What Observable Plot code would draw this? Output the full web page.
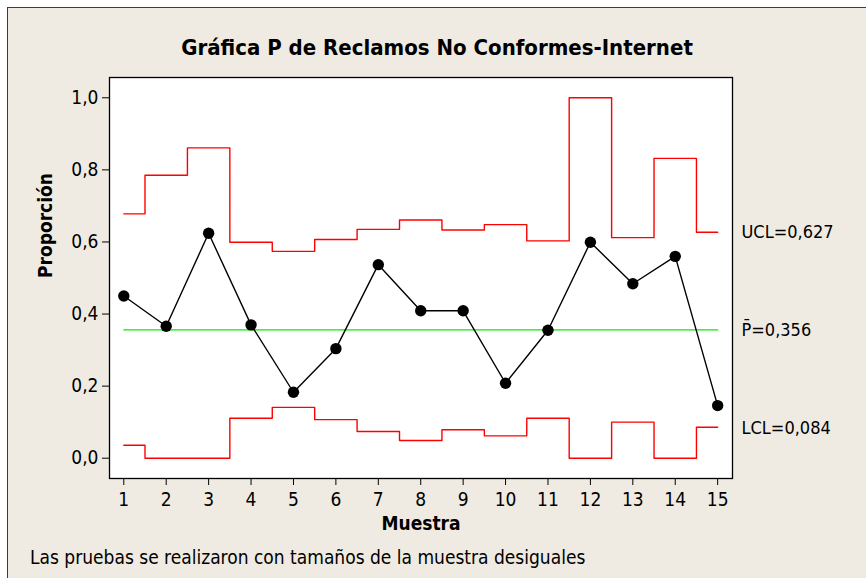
<!DOCTYPE html>
<html>
<head>
<meta charset="utf-8">
<script src="https://cdn.jsdelivr.net/npm/d3@7"></script>
<script src="https://cdn.jsdelivr.net/npm/@observablehq/plot@0.6"></script>
<style>
  html, body { margin: 0; padding: 0; background: #ffffff; overflow: hidden; }
  #page { position: relative; width: 866px; height: 578px; overflow: hidden; font-family: "DejaVu Sans Condensed", "DejaVu Sans", sans-serif; }
  #panel { position: absolute; left: 7px; top: 7px; width: 900px; height: 620px; background: #EFEBE2; border-left: 1px solid #3c3c3c; border-top: 1px solid #3c3c3c; }
  #title { position: absolute; left: 0; top: 34px; width: 874px; text-align: center; font-size: 22px; font-weight: bold; line-height: 28px; color: #000; }
  #chart { position: absolute; left: 0; top: 60px; }
  #caption { position: absolute; left: 30px; top: 545px; font-size: 19px; line-height: 24px; color: #000; }
</style>
</head>
<body>
<div id="page">
  <div id="panel"></div>
  <div id="title">Gráfica P de Reclamos No Conformes-Internet</div>
  <div id="chart"></div>
  <div id="caption">Las pruebas se realizaron con tamaños de la muestra desiguales</div>
</div>
<script>
const samples = [1, 2, 3, 4, 5, 6, 7, 8, 9, 10, 11, 12, 13, 14, 15];
const proportions = [0.450, 0.366, 0.624, 0.370, 0.183, 0.304, 0.537, 0.409, 0.409, 0.208, 0.355, 0.599, 0.484, 0.560, 0.146];
const ucl = [0.678, 0.785, 0.861, 0.599, 0.574, 0.607, 0.635, 0.661, 0.633, 0.648, 0.603, 1.000, 0.612, 0.832, 0.627];
const lcl = [0.036, 0.000, 0.000, 0.111, 0.141, 0.107, 0.074, 0.049, 0.079, 0.062, 0.111, 0.000, 0.100, 0.000, 0.086];
const centerLine = 0.356;
const yTicks = [0, 0.2, 0.4, 0.6, 0.8, 1.0];
const limitLabels = [
  {label: "UCL=0,627", value: 0.627},
  {label: "P\u0304=0,356", value: 0.356},
  {label: "LCL=0,084", value: 0.084}
];

const data = samples.map((s, i) => ({sample: s, p: proportions[i], ucl: ucl[i], lcl: lcl[i], center: centerLine}));
const xMax = 15.35;
const font = "DejaVu Sans Condensed, DejaVu Sans, sans-serif";

const chart = Plot.plot({
  width: 866,
  height: 480,
  marginLeft: 109,
  marginRight: 134,
  marginTop: 17,
  marginBottom: 62,
  style: {background: "transparent", fontFamily: font, fontSize: "18px", color: "#000", overflow: "visible"},
  x: {domain: [0.663, xMax]},
  y: {domain: [-0.0563, 1.0563]},
  marks: [
    Plot.frame({fill: "white", stroke: "none"}),
    Plot.line(data, {x: "sample", y: "center", stroke: "#00F000", strokeWidth: 1.2}),
    Plot.line(data, {x: "sample", y: "ucl", curve: "step", stroke: "#FF0000", strokeWidth: 1.4}),
    Plot.line(data, {x: "sample", y: "lcl", curve: "step", stroke: "#FF0000", strokeWidth: 1.4}),
    Plot.line(data, {x: "sample", y: "p", stroke: "#000", strokeWidth: 1.4}),
    Plot.dot(data, {x: "sample", y: "p", r: 5.7, fill: "#000", stroke: "none"}),
    Plot.frame({stroke: "#000", strokeWidth: 1.3}),
    Plot.axisX({ticks: samples, tickFormat: d => String(d), tickSize: 7, tickPadding: 7, label: null, fontSize: 19}),
    Plot.axisY({ticks: yTicks, tickFormat: d => d.toFixed(1).replace(".", ","), tickSize: 7, tickPadding: 4, label: null, fontSize: 19}),
    Plot.text(["Proporción"], {frameAnchor: "left", dx: -64, rotate: -90, fontWeight: "bold", fontSize: 19}),
    Plot.text(["Muestra"], {frameAnchor: "bottom", dy: 45, lineAnchor: "middle", fontWeight: "bold", fontSize: 19}),
    Plot.text(limitLabels, {x: () => xMax, y: "value", text: "label", dx: 9, textAnchor: "start", fontSize: 18})
  ]
});
document.getElementById("chart").appendChild(chart);
</script>
</body>
</html>
